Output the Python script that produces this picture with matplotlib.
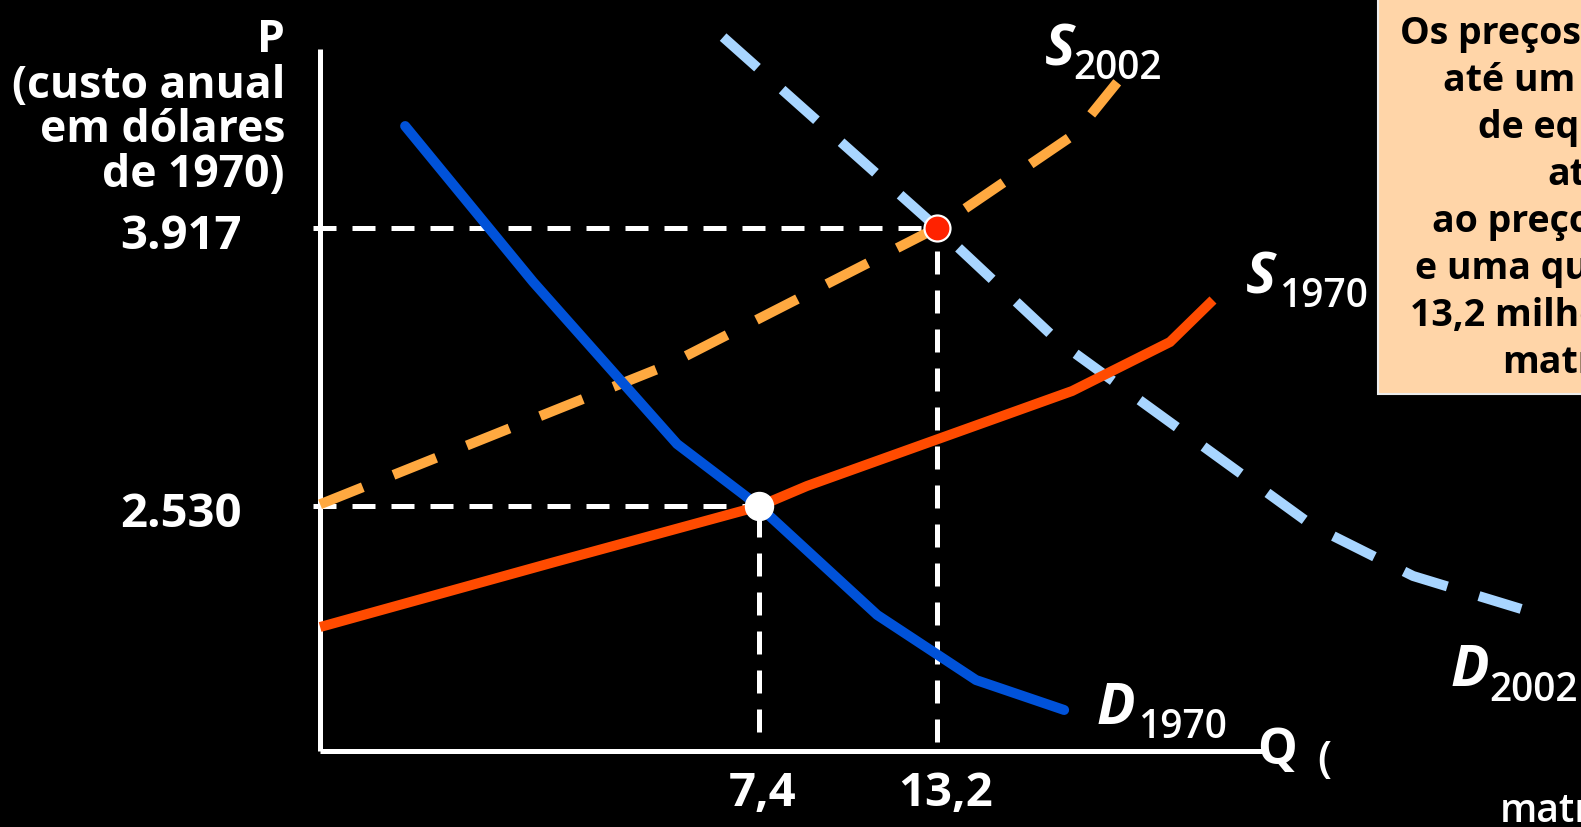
import matplotlib
matplotlib.use('Agg')
import matplotlib.pyplot as plt
from matplotlib.patches import Rectangle

W, H, DPI = 1581, 828, 100
PT = 72 / DPI  # points per pixel

# ---- data (Q in millions, P in 1970 dollars) ----
q_eq = [7.4, 13.2]
p_eq = [2530, 3917]
q_labels = ['7,4', '13,2']
p_labels = ['2.530', '3.917']

d1970_q = [-4.13, 0.04, 4.73, 7.4, 11.25, 14.47, 17.34]
d1970_p = [4423, 3647, 2840, 2530, 1989, 1665, 1516]

s1970_q = [-6.90, 0.75, 7.4, 8.96, 17.60, 20.79, 22.19]
s1970_p = [1929, 2253, 2530, 2631, 3104, 3348, 3557]

s2002_q = [-6.90, 4.50, 13.2, 17.73, 19.07]
s2002_p = [2540, 3238, 3917, 4388, 4641]

d2002_q = [6.23, 13.2, 17.14, 25.45, 28.71, 32.23]
d2002_p = [4866, 3917, 3353, 2432, 2183, 2019]

axis_q = [-6.90, 23.82]
axis_p = [1312, 4807]

box_lines = ['Os preços subiram', 'até um novo ponto', 'de equilíbrio,', 'atingido',
             'ao preço de US$ 3.917', 'e uma quantidade de', '13,2 milhões de', 'matrículas.']

plt.rcParams['font.family'] = ['Open Sans', 'DejaVu Sans']
plt.rcParams['lines.scale_dashes'] = False

fig = plt.figure(figsize=(W / DPI, H / DPI), dpi=DPI, facecolor='black')
ax = fig.add_axes([0, 0, 1, 1])
ax.set_facecolor('black')
ax.set_xlim(-17.33, 34.18)
ax.set_ylim(933.4, 5055.6)
ax.axis('off')

WHITE_DASH = (0, (23 * PT, 16 * PT))
CURVE_DASH = (0, (46 * PT, 33 * PT))
LW_AX = 5 * PT
LW_C = 10 * PT

# axes lines
ax.plot([axis_q[0], axis_q[0]], [axis_p[0], axis_p[1]], color='white', lw=LW_AX,
        solid_capstyle='butt', zorder=2)
ax.plot([axis_q[0], axis_q[1]], [axis_p[0], axis_p[0]], color='white', lw=LW_AX,
        solid_capstyle='butt', zorder=2)

# reference dashed lines
for q, p, gap in zip(q_eq, p_eq, [95, 45]):
    ax.plot([axis_q[0] - 0.23, q], [p, p], color='white', lw=LW_AX, linestyle=WHITE_DASH,
            dash_capstyle='butt', zorder=2)
    ax.plot([q, q], [axis_p[0] + gap, p], color='white', lw=LW_AX, linestyle=WHITE_DASH,
            dash_capstyle='butt', zorder=2)

# curves
ax.plot(s2002_q, s2002_p, color='#FFA940', lw=LW_C, linestyle=CURVE_DASH,
        dash_capstyle='butt', zorder=3)
ax.plot(d2002_q, d2002_p, color='#A8D5FF', lw=LW_C, linestyle=CURVE_DASH,
        dash_capstyle='butt', zorder=3)
ax.plot(s1970_q, s1970_p, color='#FF4B00', lw=LW_C, solid_capstyle='butt',
        solid_joinstyle='miter', zorder=4)
ax.plot(d1970_q, d1970_p, color='#0052D9', lw=LW_C, solid_capstyle='round',
        solid_joinstyle='round', zorder=4)

# equilibrium points
ax.plot([q_eq[0]], [p_eq[0]], 'o', color='white', ms=28 * PT, mec='white', zorder=6)
ax.plot([q_eq[1]], [p_eq[1]], 'o', color='#FF2200', ms=26 * PT, mec='white',
        mew=2.2 * PT, zorder=6)

# tick labels
for q, lbl, dx in zip(q_eq, q_labels, [4, 9]):
    ax.annotate(lbl, xy=(q, axis_p[0]), xytext=(dx, -54), textcoords='offset pixels',
                ha='center', va='baseline', color='white', fontsize=34, fontweight='bold')
for p, lbl in zip(p_eq, p_labels):
    ax.annotate(lbl, xy=(axis_q[0], p), xytext=(-78, -20), textcoords='offset pixels',
                ha='right', va='baseline', color='white', fontsize=34, fontweight='bold')


def ftext(x, y, s, **kw):
    kw.setdefault('va', 'baseline')
    kw.setdefault('color', 'white')
    fig.text(x / W, 1 - y / H, s, **kw)


# y-axis title
for y, s in zip([52, 98, 142, 187], ['P', '(custo anual', 'em dólares', 'de 1970)']):
    ftext(285, y, s, ha='right', fontsize=32, fontweight='bold')

# x-axis title
ftext(1257, 764, 'Q', ha='left', fontsize=36, fontweight='bold')
ftext(1317, 772, '(', ha='left', fontsize=32, fontweight='semibold')
ftext(1500, 822, 'matrículas)', ha='left', fontsize=28, fontweight='semibold')

# curve labels
for (sx, sy, big, subx, suby, sub) in [
        (1045, 66, 'S', 1073, 79, '2002'),
        (1246, 293, 'S', 1279, 307, '1970'),
        (1097, 724, 'D', 1138, 738, '1970'),
        (1451, 686, 'D', 1489, 701, '2002')]:
    ftext(sx, sy, big, ha='left', fontsize=41, fontweight='bold', fontstyle='italic')
    ftext(subx, suby, sub, ha='left', fontsize=28, fontweight='semibold')

# annotation box
fig.patches.append(Rectangle((1378 / W, 1 - 395 / H), 300 / W, 420 / H,
                             transform=fig.transFigure, facecolor='#FFD5A8',
                             edgecolor='#EDEDED', lw=1.5, zorder=1))
box_x = [1400, 1443, 1478, 1547, 1432, 1415, 1410, 1502]
for i, (bx, s) in enumerate(zip(box_x, box_lines)):
    ftext(bx, 44 + 47 * i, s, ha='left', fontsize=27, fontweight='bold', color='black',
          zorder=2)

fig.savefig('out.png', dpi=DPI, facecolor='black')
